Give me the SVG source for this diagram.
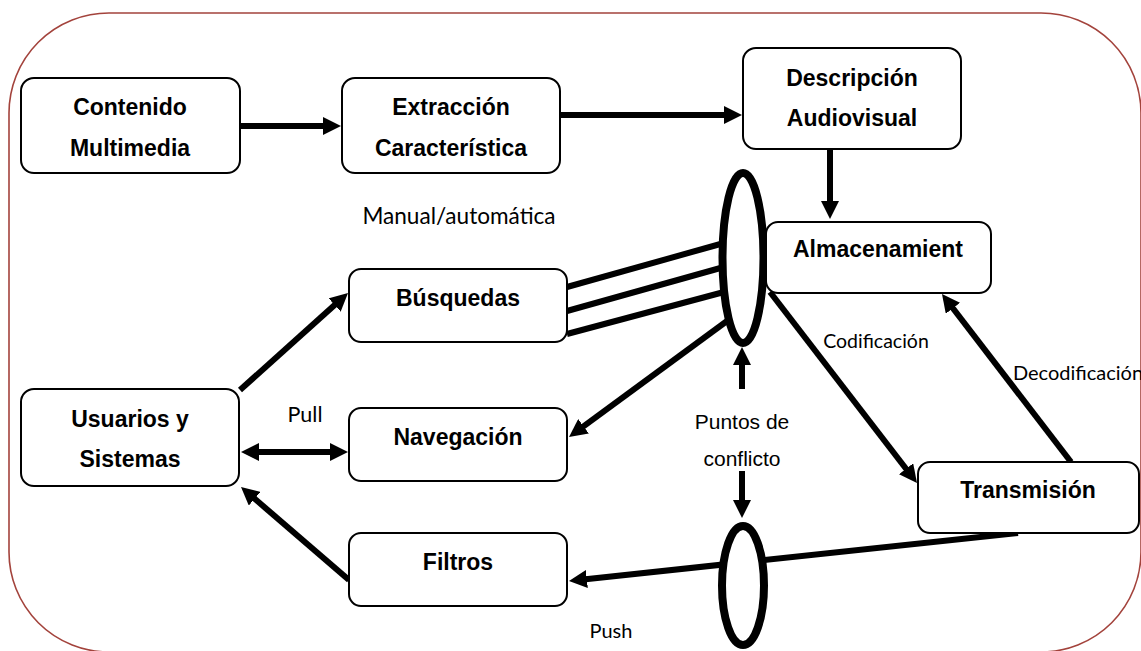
<svg xmlns="http://www.w3.org/2000/svg" width="1141" height="651" viewBox="0 0 1141 651">
<style>
.frame{fill:none;stroke:#a3433c;stroke-width:1.6}
.box{fill:#fff;stroke:#000;stroke-width:2}
.ell{fill:#fff;stroke:#000;stroke-width:8}
.c{fill:none;stroke:#000;stroke-width:6}
.a{marker-end:url(#ah)}
.d{marker-start:url(#ah);marker-end:url(#ah)}
.t{font-family:"Liberation Sans",Arial,sans-serif;font-weight:bold;font-size:23px;text-anchor:middle;fill:#000}
.l{font-family:Lato,"Open Sans",sans-serif;font-size:20px;text-anchor:middle;fill:#000}
.p{font-family:"Liberation Sans",Arial,sans-serif;font-size:21px;text-anchor:middle;fill:#000}
</style>
<defs>
<marker id="ah" markerUnits="userSpaceOnUse" markerWidth="18" markerHeight="18" refX="6" refY="9" orient="auto-start-reverse">
<path d="M0,0 L18,9 L0,18 z" fill="#000"/>
</marker>
</defs>
<rect class="frame" x="9" y="13" width="1132" height="639" rx="100" ry="100"/>
<g id="connectors">
<line class="c a" x1="240" y1="126" x2="329" y2="126"/>
<line class="c a" x1="557" y1="115" x2="730" y2="115"/>
<line class="c a" x1="830" y1="149" x2="830" y2="207"/>
<line class="c" x1="567" y1="287" x2="724" y2="243"/>
<line class="c" x1="567" y1="311" x2="724" y2="267"/>
<line class="c" x1="567" y1="334" x2="724" y2="292"/>
<line class="c a" x1="727" y1="321" x2="578.7" y2="429.9"/>
<line class="c a" x1="742" y1="389" x2="742" y2="359"/>
<line class="c a" x1="742" y1="471" x2="742" y2="506"/>
<line class="c a" x1="770" y1="292" x2="909.7" y2="473.5"/>
<line class="c a" x1="1071" y1="462" x2="949.3" y2="303.5"/>
<line class="c a" x1="1018" y1="533" x2="580.9" y2="579.7"/>
<line class="c a" x1="240" y1="390" x2="339.1" y2="301"/>
<line class="c d" x1="253" y1="452" x2="336" y2="452"/>
<line class="c a" x1="349" y1="580" x2="250.1" y2="494.8"/>
</g>
<g id="conflict-top"><ellipse class="ell" cx="743" cy="258" rx="20.5" ry="85"/></g>
<g id="conflict-bottom"><ellipse class="ell" cx="743" cy="585.5" rx="21" ry="59.5"/></g>
<g id="contenido"><rect class="box" x="21" y="78" width="219" height="95" rx="13"/><text class="t" x="130" y="115">Contenido</text><text class="t" x="130" y="156">Multimedia</text></g>
<g id="extraccion"><rect class="box" x="342" y="78" width="218" height="95" rx="13"/><text class="t" x="451" y="115">Extracción</text><text class="t" x="451" y="156">Característica</text></g>
<g id="descripcion"><rect class="box" x="743" y="48" width="218" height="101" rx="13"/><text class="t" x="852" y="86">Descripción</text><text class="t" x="852" y="126">Audiovisual</text></g>
<g id="almacenamiento"><rect class="box" x="766" y="222" width="225" height="71" rx="12"/><text class="t" x="878" y="257">Almacenamient</text></g>
<g id="busquedas"><rect class="box" x="349" y="269" width="218" height="73" rx="12"/><text class="t" x="458" y="306">Búsquedas</text></g>
<g id="navegacion"><rect class="box" x="349" y="408" width="218" height="73" rx="12"/><text class="t" x="458" y="445">Navegación</text></g>
<g id="filtros"><rect class="box" x="349" y="533" width="218" height="73" rx="12"/><text class="t" x="458" y="570">Filtros</text></g>
<g id="usuarios"><rect class="box" x="21" y="389" width="218" height="97" rx="13"/><text class="t" x="130" y="427">Usuarios y</text><text class="t" x="130" y="467">Sistemas</text></g>
<g id="transmision"><rect class="box" x="918" y="462" width="221" height="71" rx="12"/><text class="t" x="1028" y="498">Transmisión</text></g>
<g id="labels">
<text class="l" x="459" y="224" style="font-size:22.6px">Manual/automática</text>
<text class="l" x="305" y="422" style="font-size:21.5px">Pull</text>
<text class="l" x="611" y="638">Push</text>
<text class="l" x="876" y="348" style="font-size:19.5px">Codificación</text>
<text class="l" x="1078" y="380">Decodificación</text>
<text class="p" x="742" y="429">Puntos de</text>
<text class="p" x="742" y="466">conflicto</text>
</g>
</svg>
